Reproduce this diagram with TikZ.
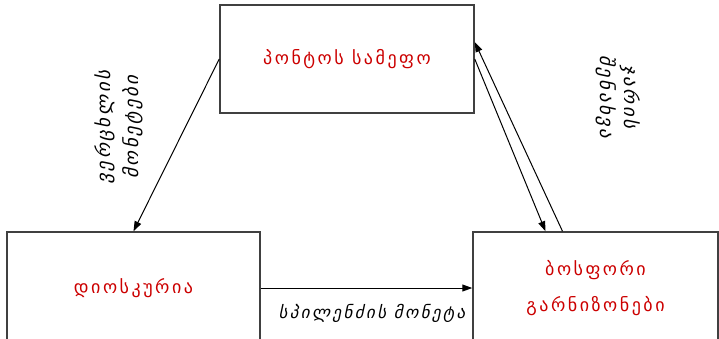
\documentclass[tikz,border=0pt]{standalone}
\usepackage{fontspec}
\newfontfamily\geo[LetterSpace=14]{DejaVu Sans}
\newfontfamily\geolabel[LetterSpace=13]{DejaVu Sans}
\usetikzlibrary{arrows.meta,calc}
\definecolor{boxred}{RGB}{204,0,0}
\definecolor{framegray}{RGB}{64,64,64}
\begin{document}
\begin{tikzpicture}[x=1pt,y=-1pt,
  region/.style={draw=framegray, line width=1.5pt, fill=white, inner sep=0pt,
    align=center, text=boxred, font=\geo\fontsize{18}{36}\selectfont},
  flow/.style={draw=black, line width=1pt, -{Triangle[length=10pt,width=7pt]}},
  goods/.style={font=\geolabel\itshape\fontsize{19}{28}\selectfont, align=center, inner sep=0pt}]
\useasboundingbox (0,0) rectangle (719,338);
\clip (0,0) rectangle (719,338);
% the three regions
\node[region, minimum width=254pt, minimum height=108pt] (pontus) at (347,59) {პონტოს სამეფო};
\node[region, minimum width=253pt, minimum height=112pt] (dio) at (133.5,288) {დიოსკურია};
\node[region, minimum width=245pt, minimum height=112pt] (bosp) at (595.5,288) {ბოსფორი\\გარნიზონები};
% flows between them
\draw[flow] (pontus.west) -- (dio.north);
\draw[flow] (dio.east) -- (bosp.west);
\draw[flow] (pontus.east) -- ([xshift=-50pt]bosp.north);
\draw[flow] ([xshift=-33pt]bosp.north) -- ([yshift=17pt]pontus.east);
% what is carried
\node[goods, rotate=90] (silver) at (119,127) {ვერცხლის\\მონეტები};
\node[goods, rotate=-90, font=\geolabel\itshape\fontsize{19}{24}\selectfont] (upkeep) at (618,97) {ჯარის\\შენახვა};
\node[goods, font=\geo\itshape\fontsize{17}{20}\selectfont] (copper) at (372,313) {სპილენძის მონეტა};
\end{tikzpicture}
\end{document}
